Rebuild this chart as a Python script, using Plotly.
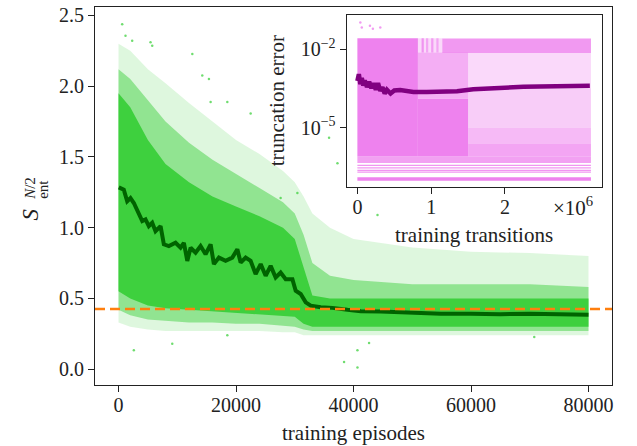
import plotly.graph_objects as go

# ---------------- main panel data ----------------
# moving average of the entanglement entropy
LINE_X = [50, 900, 1480, 2040, 2610, 3190, 4040, 4600, 5160, 5740, 6300, 7160, 7720, 8570,
          9710, 10560, 11130, 11710, 12270, 13120, 13970, 14820, 15680, 16240, 17090, 18230,
          19370, 20230, 20790, 21640, 22490, 23340, 24200, 25050, 25900, 26750, 27600, 28460,
          29600, 30160, 31010, 31870, 32720, 34420, 36410, 38970, 41240, 44640, 48050, 51460,
          54870, 60000, 65000, 70000, 75000, 80000]
LINE_Y = [1.284, 1.268, 1.186, 1.209, 1.174, 1.128, 1.046, 1.058, 1.011, 1.034, 0.975, 1.011,
          0.882, 0.870, 0.893, 0.858, 0.893, 0.765, 0.858, 0.823, 0.870, 0.812, 0.882, 0.742,
          0.788, 0.765, 0.788, 0.847, 0.753, 0.788, 0.765, 0.672, 0.742, 0.660, 0.730, 0.648,
          0.683, 0.636, 0.636, 0.554, 0.531, 0.472, 0.449, 0.437, 0.433, 0.419, 0.409, 0.407,
          0.402, 0.398, 0.391, 0.392, 0.388, 0.392, 0.387, 0.385]

# envelopes of the green scatter cloud (sparse / medium / dense)
CLOUD_X = [0, 2000, 5000, 8000, 12000, 16000, 20000, 24000, 28000, 30000, 31500, 33000,
           36000, 40000, 50000, 60000, 70000, 80000]
SPARSE_HI = [2.30, 2.25, 2.12, 2.02, 1.88, 1.75, 1.62, 1.52, 1.40, 1.32, 1.22, 1.10, 1.00, 0.92, 0.86, 0.83, 0.82, 0.80]
SPARSE_LO = [0.33, 0.30, 0.28, 0.27, 0.27, 0.27, 0.27, 0.27, 0.26, 0.26, 0.24, 0.24, 0.24, 0.24, 0.24, 0.24, 0.24, 0.24]
MED_HI = [2.12, 2.05, 1.90, 1.75, 1.60, 1.48, 1.38, 1.28, 1.18, 1.10, 0.95, 0.75, 0.66, 0.63, 0.60, 0.60, 0.60, 0.58]
MED_LO = [0.42, 0.38, 0.35, 0.34, 0.33, 0.33, 0.32, 0.32, 0.31, 0.30, 0.28, 0.27, 0.27, 0.27, 0.27, 0.27, 0.27, 0.27]
DENSE_HI = [1.95, 1.85, 1.62, 1.45, 1.32, 1.22, 1.15, 1.08, 1.00, 0.92, 0.72, 0.52, 0.50, 0.50, 0.50, 0.50, 0.50, 0.50]
DENSE_LO = [0.55, 0.50, 0.45, 0.43, 0.42, 0.41, 0.40, 0.39, 0.38, 0.37, 0.32, 0.30, 0.30, 0.30, 0.30, 0.30, 0.30, 0.30]

# isolated green points
OUT_X = [630, 1190, 2330, 5450, 5740, 12560, 14260, 15390, 15680, 18520, 22490, 35840, 37270,
         30450, 44080, 27600, 2610, 9150, 18520, 38390, 40670, 40670, 42650, 70770]
OUT_Y = [2.437, 2.356, 2.32, 2.31, 2.285, 2.227, 2.075, 2.05, 1.888, 1.888, 1.806, 1.635, 1.455,
         1.244, 1.09, 1.21, 0.133, 0.18, 0.239, 0.051, 0.133, 0.012, 0.185, 0.227]

REF_Y = 0.425  # orange dashed reference level

X_TICKS = [0, 20000, 40000, 60000, 80000]
X_TICKTEXT = ["0", "20000", "40000", "60000", "80000"]
Y_TICKS = [0.0, 0.5, 1.0, 1.5, 2.0, 2.5]
Y_TICKTEXT = ["0.0", "0.5", "1.0", "1.5", "2.0", "2.5"]

# ---------------- inset data ----------------
TR_X = [0.0, 0.02e6, 0.04e6, 0.06e6, 0.08e6, 0.10e6, 0.13e6, 0.16e6, 0.19e6, 0.22e6, 0.25e6,
        0.28e6, 0.31e6, 0.34e6, 0.37e6, 0.40e6, 0.45e6, 0.50e6, 0.58e6, 0.76e6, 0.94e6,
        1.12e6, 1.35e6, 1.57e6, 1.80e6, 2.02e6, 2.25e6, 2.47e6, 2.70e6, 2.93e6, 3.15e6]
TR_Y = [6.0e-4, 1.1e-3, 4.5e-4, 7.9e-4, 4.0e-4, 6.3e-4, 3.5e-4, 5.6e-4, 3.2e-4, 5.0e-4, 2.8e-4,
        5.0e-4, 2.5e-4, 3.5e-4, 2.0e-4, 2.8e-4, 2.0e-4, 2.6e-4, 2.7e-4, 2.3e-4, 2.3e-4,
        2.3e-4, 2.45e-4, 2.9e-4, 3.2e-4, 3.5e-4, 3.6e-4, 3.7e-4, 3.9e-4, 4.0e-4, 4.0e-4]

# violet cloud regions: x start, x end, low, high, opacity
VIO_X0 = [0.0, 0.82e6, 0.82e6, 0.82e6, 1.15e6, 1.5e6, 1.5e6, 1.5e6, 1.5e6, 0.0,
          0.87e6, 0.93e6, 1.00e6, 1.07e6]
VIO_X1 = [0.82e6, 1.5e6, 1.5e6, 1.15e6, 3.165e6, 3.165e6, 3.165e6, 3.165e6, 3.165e6, 3.165e6,
          0.90e6, 0.96e6, 1.03e6, 1.10e6]
VIO_LO = [7.9e-7, 7.9e-7, 1.26e-4, 7.4e-3, 7.1e-3, 3.2e-4, 1.0e-5, 2.5e-6, 7.9e-7, 4.5e-7,
          7.4e-3, 7.4e-3, 7.4e-3, 7.4e-3]
VIO_HI = [2.57e-2, 1.26e-4, 7.4e-3, 2.57e-2, 2.5e-2, 7.1e-3, 3.2e-4, 1.0e-5, 2.5e-6, 7.9e-7,
          2.57e-2, 2.57e-2, 2.57e-2, 2.57e-2]
VIO_OP = [1.0, 1.0, 0.65, 0.3, 0.82, 0.3, 0.4, 0.55, 0.72, 0.75,
          0.8, 0.6, 0.7, 0.6]

VIO_LINES = [3.65e-7, 2.9e-7, 2.35e-7, 2.0e-7]     # thin horizontal streaks
VIO_BAND_LO, VIO_BAND_HI = 9.5e-8, 1.29e-7          # thick bottom streak
VIO_XEND = 3.165e6

VOUT_X = [0.04e6, 0.06e6, 0.17e6, 0.21e6, 0.31e6]
VOUT_Y = [1.02e-1, 6.6e-2, 7.8e-2, 5.9e-2, 6.6e-2]

FONT = "Liberation Serif"
GREEN = "50,205,50"
VIOLET = "238,130,238"
INK = "#222"

fig = go.Figure()


def band(x, lo, hi, color, op, xa="x", ya="y"):
    fig.add_trace(go.Scatter(
        x=list(x) + list(x)[::-1], y=list(lo) + list(hi)[::-1],
        fill="toself", mode="lines", line=dict(width=0),
        fillcolor=f"rgba({color},{op})", hoverinfo="skip", showlegend=False,
        xaxis=xa, yaxis=ya))


# main cloud
band(CLOUD_X, SPARSE_LO, SPARSE_HI, GREEN, 0.16)
band(CLOUD_X, MED_LO, MED_HI, GREEN, 0.45)
band(CLOUD_X, DENSE_LO, DENSE_HI, GREEN, 0.88)
fig.add_trace(go.Scatter(x=OUT_X, y=OUT_Y, mode="markers",
                         marker=dict(size=2.5, color=f"rgba({GREEN},0.7)"),
                         showlegend=False, hoverinfo="skip"))
fig.add_trace(go.Scatter(x=LINE_X, y=LINE_Y, mode="lines",
                         line=dict(color="#006400", width=4), showlegend=False))

# inset cloud
for x0, x1, lo, hi, op in zip(VIO_X0, VIO_X1, VIO_LO, VIO_HI, VIO_OP):
    band([x0, x1], [lo, lo], [hi, hi], VIOLET, op, "x2", "y2")
for yl in VIO_LINES:
    fig.add_trace(go.Scatter(x=[0, VIO_XEND], y=[yl, yl], mode="lines",
                             line=dict(color=f"rgba({VIOLET},0.85)", width=1.2),
                             showlegend=False, xaxis="x2", yaxis="y2"))
band([0, VIO_XEND], [VIO_BAND_LO] * 2, [VIO_BAND_HI] * 2, VIOLET, 1.0, "x2", "y2")
fig.add_trace(go.Scatter(x=VOUT_X, y=VOUT_Y, mode="markers",
                         marker=dict(size=2.5, color=f"rgba({VIOLET},0.8)"),
                         showlegend=False, xaxis="x2", yaxis="y2"))
fig.add_trace(go.Scatter(x=TR_X, y=TR_Y, mode="lines",
                         line=dict(color="#800080", width=4.5), showlegend=False,
                         xaxis="x2", yaxis="y2"))

axcommon = dict(showline=True, linecolor=INK, linewidth=1.2, mirror=True,
                ticks="outside", ticklen=6, tickwidth=1.2, tickcolor=INK,
                showgrid=False, zeroline=False,
                tickfont=dict(family=FONT, size=20, color=INK))

fig.update_layout(
    width=637, height=446,
    margin=dict(l=95, r=25, t=4, b=61),
    paper_bgcolor="white", plot_bgcolor="white",
    showlegend=False,
    xaxis=dict(range=[-4000, 84000], tickvals=X_TICKS, ticktext=X_TICKTEXT,
               ticklabelstandoff=-4, **axcommon),
    yaxis=dict(range=[-0.112, 2.559], tickvals=Y_TICKS, ticktext=Y_TICKTEXT, **axcommon),
    xaxis2=dict(domain=[0.4868, 0.980], anchor="y2", range=[-0.145e6, 3.31e6],
                tickvals=[0, 1e6, 2e6], ticktext=["0", "1", "2"],
                ticklabelstandoff=-4, **axcommon),
    yaxis2=dict(domain=[0.5235, 0.979], anchor="x2", type="log", range=[-7.27, -0.70],
                tickvals=[1e-2, 1e-5], ticktext=["10<sup>−2</sup>", "10<sup>−5</sup>"],
                **axcommon),
)

fig.add_shape(type="line", xref="x domain", yref="y", x0=0, x1=1, y0=REF_Y, y1=REF_Y,
              line=dict(color="#ff7f0e", width=2.7, dash="10px,5px"), layer="above")

tf = dict(family=FONT, size=21, color=INK)
ann = [
    dict(text="training episodes", x=0.5, y=-0.128, font=tf),
    dict(text="training transitions", x=0.733, y=0.398, font=tf),
    dict(text="truncation error", x=0.351, y=0.752, textangle=-90, font=tf),
    dict(text="×10<sup>6</sup>", x=0.967, y=0.473, xanchor="right", font=tf),
    dict(text="<i>S</i>", x=-0.1257, y=0.4514, textangle=-90,
         font=dict(family=FONT, size=23, color=INK)),
    dict(text="<i>N</i>/2", x=-0.1257, y=0.519, textangle=-90,
         font=dict(family=FONT, size=15, color=INK)),
    dict(text="ent", x=-0.1006, y=0.519, textangle=-90,
         font=dict(family=FONT, size=15, color=INK)),
]
for a in ann:
    a.setdefault("xanchor", "center")
    fig.add_annotation(xref="paper", yref="paper", yanchor="middle", showarrow=False, **a)

fig.write_html("out.html")
